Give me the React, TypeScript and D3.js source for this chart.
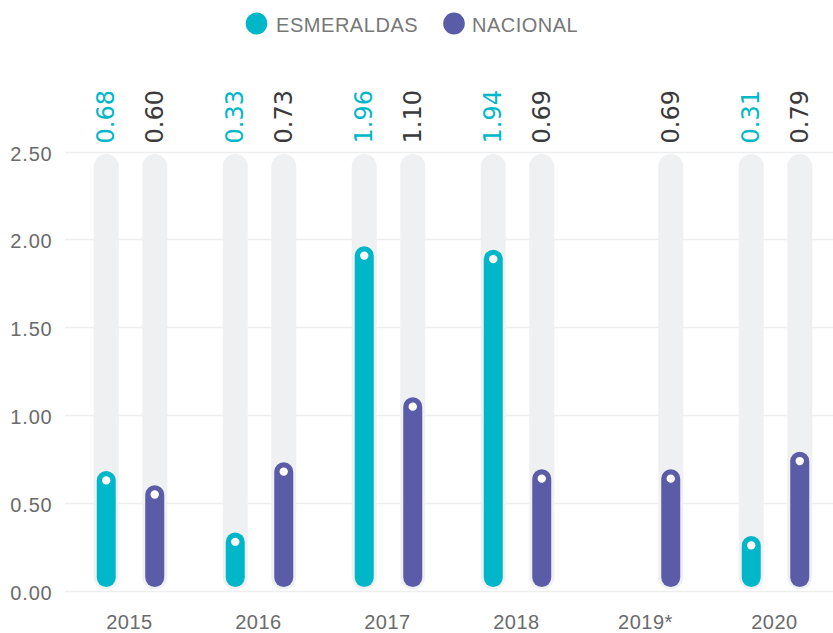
import React from "react";
import * as d3 from "d3";

const years = ["2015", "2016", "2017", "2018", "2019*", "2020"];
const esmeraldas: (number | null)[] = [0.68, 0.33, 1.96, 1.94, null, 0.31];
const nacional: (number | null)[] = [0.6, 0.73, 1.1, 0.69, 0.69, 0.79];
const yTicks = [0, 0.5, 1, 1.5, 2, 2.5];
const seriesNames = ["ESMERALDAS", "NACIONAL"];

const W = 833;
const H = 633;
const CYAN = "#00b7c9";
const PURPLE = "#5b5ca8";
const TRACK = "#eff0f2";

export default function App() {
  const x = d3.scaleBand<string>().domain(years).range([66, 840]).padding(0);
  const y = d3.scaleLinear().domain([0, 2.5]).range([590.5, 151.5]);
  const offset = 24.25;
  const series = [
    { name: seriesNames[0], values: esmeraldas, color: CYAN, labelColor: CYAN, dx: -offset },
    { name: seriesNames[1], values: nacional, color: PURPLE, labelColor: "#3a3a3a", dx: offset },
  ];
  const trackW = 25;
  const barW = 19;
  return (
    <svg width={W} height={H} style={{ position: "absolute", left: 0, top: 0, background: "#fff" }}>
      {/* legend */}
      <g>
        <ellipse cx={256.5} cy={23.5} rx={10.8} ry={11} fill={CYAN} />
        <text x={276} y={31.5} fontFamily="Liberation Sans, Arial, sans-serif" fontSize={20} letterSpacing={0.55} fill="#777">
          {seriesNames[0]}
        </text>
        <ellipse cx={454} cy={23.5} rx={10.8} ry={11} fill={PURPLE} />
        <text x={472} y={31.5} fontFamily="Liberation Sans, Arial, sans-serif" fontSize={20} letterSpacing={0.5} fill="#777">
          {seriesNames[1]}
        </text>
      </g>
      {/* grid + y labels */}
      {yTicks.map((t) => (
        <g key={t}>
          <line x1={65} x2={W} y1={Math.round(y(t)) + 0.5} y2={Math.round(y(t)) + 0.5} stroke="#eeeeee" strokeWidth={1.5} />
          <text x={52.5} y={y(t) + 9} textAnchor="end" fontFamily="Liberation Sans, Arial, sans-serif" fontSize={20} letterSpacing={0.8} fill="#6b6b6b">
            {t.toFixed(2)}
          </text>
        </g>
      ))}
      {/* bars */}
      {years.map((yr, i) => {
        const cx0 = (x(yr) as number) + x.bandwidth() / 2;
        return (
          <g key={yr}>
            {series.map((s) => {
              const v = s.values[i];
              if (v === null || v === undefined) return null;
              const cx = cx0 + s.dx;
              const top = y(v);
              const bottom = y(0) - 3.5;
              return (
                <g key={s.name}>
                  <rect
                    x={cx - trackW / 2}
                    y={y(2.5) + 2.5}
                    width={trackW}
                    height={y(0) - 1 - (y(2.5) + 2.5)}
                    rx={trackW / 2}
                    fill={TRACK}
                  />
                  <rect x={cx - barW / 2} y={top} width={barW} height={bottom - top} rx={barW / 2} fill={s.color} />
                  <circle cx={cx} cy={top + 9.3} r={4.2} fill="#fff" />
                  <text
                    transform={`translate(${cx},${143.5}) rotate(-90)`}
                    dominantBaseline="central"
                    textAnchor="start"
                    fontFamily="DejaVu Sans, sans-serif"
                    fontSize={24}
                    fill={s.labelColor}
                  >
                    {v.toFixed(2)}
                  </text>
                </g>
              );
            })}
            <text x={cx0 - 1} y={629} textAnchor="middle" fontFamily="Liberation Sans, Arial, sans-serif" fontSize={20} letterSpacing={0.5} fill="#6b6b6b">
              {yr}
            </text>
          </g>
        );
      })}
    </svg>
  );
}
